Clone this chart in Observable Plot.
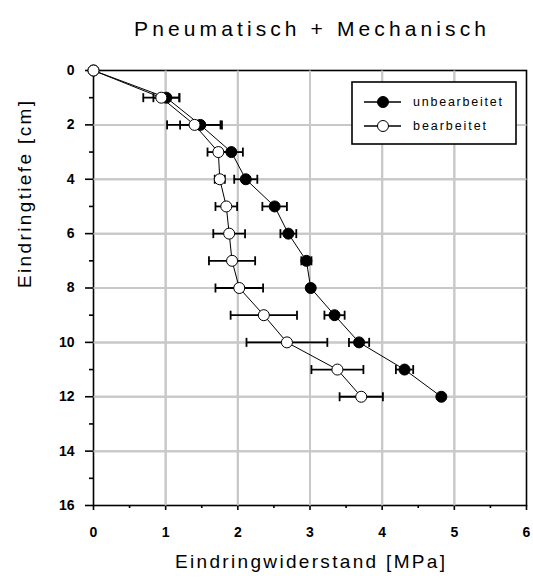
<!DOCTYPE html>
<html><head><meta charset="utf-8">
<script src="https://cdn.jsdelivr.net/npm/d3@7"></script>
<script src="https://cdn.jsdelivr.net/npm/@observablehq/plot@0.6"></script>
<style>
body{margin:0;background:#fff;overflow:hidden}
</style>
</head><body><div id="wrap"></div>
<script>
// ---- data ----
const depth = [0, 1, 2, 3, 4, 5, 6, 7, 8, 9, 10, 11, 12];
const unbearbeitet    = [0, 1.01, 1.48, 1.91, 2.11, 2.51, 2.70, 2.95, 3.01, 3.34, 3.68, 4.31, 4.82];
const unbearbeitetErr = [0, 0.18, 0.28, 0.16, 0.16, 0.17, 0.11, 0.07, 0.03, 0.14, 0.14, 0.12, 0];
const bearbeitet      = [0, 0.94, 1.40, 1.73, 1.75, 1.84, 1.88, 1.92, 2.02, 2.36, 2.68, 3.38, 3.71];
const bearbeitetErr   = [0, 0.25, 0.38, 0.15, 0.07, 0.15, 0.22, 0.32, 0.33, 0.46, 0.56, 0.36, 0.30];
const seriesNames = ["unbearbeitet", "bearbeitet"];
const xTicks = [0, 1, 2, 3, 4, 5, 6];
const xMinor = [0.5, 1.5, 2.5, 3.5, 4.5, 5.5];
const yTicks = [0, 2, 4, 6, 8, 10, 12, 14, 16];
const yMinor = [1, 3, 5, 7, 9, 11, 13, 15];
const title = "Pneumatisch + Mechanisch";
const xLabel = "Eindringwiderstand [MPa]";
const yLabel = "Eindringtiefe [cm]";

// ---- table ----
const rows = [];
depth.forEach((d, i) => {
  rows.push({series: seriesNames[0], depth: d, x: unbearbeitet[i], err: unbearbeitetErr[i]});
});
depth.forEach((d, i) => {
  rows.push({series: seriesNames[1], depth: d, x: bearbeitet[i], err: bearbeitetErr[i]});
});
const errRows = rows.filter(d => d.err > 0);
const xDom = [xTicks[0], xTicks[xTicks.length - 1]];
const yDom = [yTicks[0], yTicks[yTicks.length - 1]];
const xGrid = xTicks.filter(v => v > xDom[0] && v < xDom[1]);
const yGrid = yTicks.filter(v => v > yDom[0] && v < yDom[1]);
const gridSegs = [
  ...xGrid.map(v => ({x1: v, x2: v, y1: yDom[0], y2: yDom[1]})),
  ...yGrid.map(v => ({x1: xDom[0], x2: xDom[1], y1: v, y2: v}))
];

const cap = {draw(ctx, size) { const h = Math.sqrt(size / Math.PI); ctx.moveTo(0, -h); ctx.lineTo(0, h); }};
const font = "Liberation Sans, Arial, sans-serif";

const plot = Plot.plot({
  width: 533, height: 585,
  marginLeft: 93, marginRight: 7, marginTop: 70, marginBottom: 80,
  style: {fontFamily: font},
  x: {domain: xDom},
  y: {domain: yDom, reverse: true},
  marks: [
    Plot.ruleX(xGrid, {stroke: "#c8c8c8", strokeWidth: 2}),
    Plot.ruleY(yGrid, {stroke: "#c8c8c8", strokeWidth: 2}),
    Plot.frame({stroke: "#000", strokeWidth: 1.6}),
    Plot.axisX(xTicks, {tickSize: 5, tickPadding: 17, fontSize: 14, fontWeight: "bold", label: null, strokeWidth: 1.6, fill: "#000", stroke: "#000"}),
    Plot.axisX(xMinor, {tickSize: 3, text: null, label: null, strokeWidth: 1.6, stroke: "#000"}),
    Plot.axisY(yTicks, {tickSize: 8, tickPadding: 11, fontSize: 14, fontWeight: "bold", label: null, strokeWidth: 1.6, fill: "#000", stroke: "#000"}),
    Plot.axisY(yMinor, {tickSize: 4, text: null, label: null, strokeWidth: 1.6, stroke: "#000"}),
    Plot.link(gridSegs, {x1: "x1", y1: "y1", x2: "x2", y2: "y2", stroke: "#c8c8c8", strokeWidth: 2}),
    Plot.line(rows, {x: "x", y: "depth", z: "series", stroke: "#000", strokeWidth: 1}),
    Plot.ruleY(errRows, {y: "depth", x1: d => d.x - d.err, x2: d => d.x + d.err, stroke: "#000", strokeWidth: 1.8}),
    Plot.dot(errRows, {x: d => d.x - d.err, y: "depth", symbol: cap, r: 4.5, stroke: "#000", strokeWidth: 1.8}),
    Plot.dot(errRows, {x: d => d.x + d.err, y: "depth", symbol: cap, r: 4.5, stroke: "#000", strokeWidth: 1.8}),
    Plot.dot(rows.filter(d => d.series === seriesNames[0]), {x: "x", y: "depth", r: 5.5, fill: "#000", stroke: "#000", strokeWidth: 1}),
    Plot.dot(rows.filter(d => d.series === seriesNames[1]), {x: "x", y: "depth", r: 5.5, fill: "#fff", stroke: "#000", strokeWidth: 1}),
    Plot.text([title], {text: d => d, frameAnchor: "top", dy: -49, fontSize: 21, fill: "#000"}),
    Plot.text([xLabel], {text: d => d, frameAnchor: "bottom", dy: 62, fontSize: 19, fill: "#000"}),
    Plot.text([yLabel], {text: d => d, frameAnchor: "left", dx: -69, rotate: -90, fontSize: 19, fill: "#000"})
  ]
});

const lengths = new Map([[title, 352], [xLabel, 270], [yLabel, 187]]);
d3.select(plot).selectAll("text").each(function () {
  const L = lengths.get(this.textContent);
  if (L) { this.setAttribute("textLength", L); this.setAttribute("lengthAdjust", "spacing"); }
});

document.getElementById("wrap").appendChild(plot);

// ---- legend (inside the plot's svg) ----
const lg = d3.select(plot).append("g").attr("font-family", font);
lg.append("rect").attr("x", 352).attr("y", 82).attr("width", 164).attr("height", 62)
  .attr("fill", "#fff").attr("stroke", "#000").attr("stroke-width", 1.6);
const legendRows = [
  {name: seriesNames[0], fill: "#000", y: 102, len: 89},
  {name: seriesNames[1], fill: "#fff", y: 126, len: 73}
];
legendRows.forEach(r => {
  lg.append("line").attr("x1", 364).attr("x2", 401).attr("y1", r.y).attr("y2", r.y).attr("stroke", "#000").attr("stroke-width", 1.6);
  lg.append("circle").attr("cx", 383).attr("cy", r.y).attr("r", 5.5).attr("fill", r.fill).attr("stroke", "#000").attr("stroke-width", 1);
  lg.append("text").attr("x", 413).attr("y", r.y).attr("dy", "0.35em").attr("font-size", 12.5).attr("text-anchor", "start")
    .attr("textLength", r.len).attr("lengthAdjust", "spacing").attr("fill", "#000").text(r.name);
});
</script>
</body></html>
